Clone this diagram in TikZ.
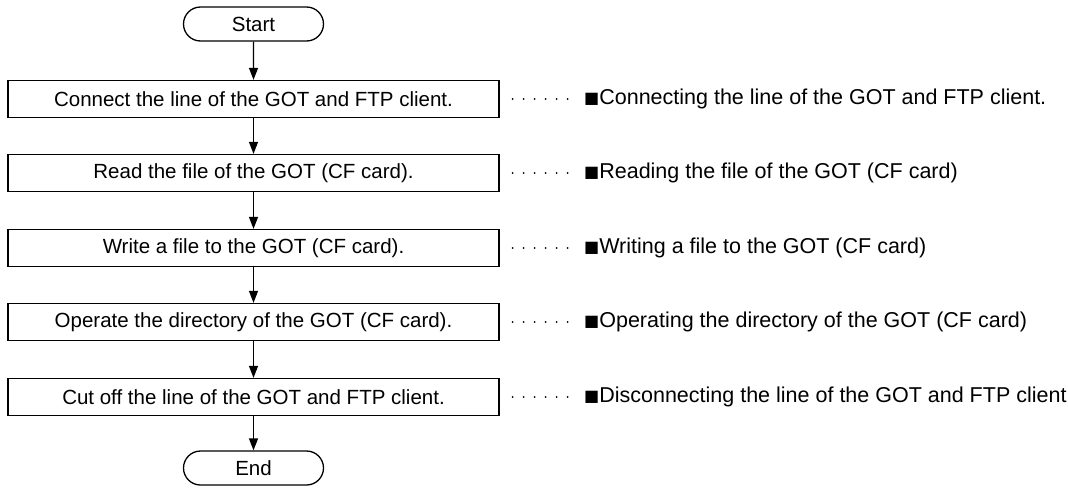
\documentclass[tikz,border=0pt]{standalone}
\usepackage{fontspec}
\setmainfont{Liberation Sans}
\newfontfamily\marksymbol{DejaVu Sans}
\newcommand{\blackmark}{\raisebox{1pt}{\marksymbol\fontsize{16}{20}\selectfont ■}}
\usetikzlibrary{shapes.misc,arrows.meta}

\begin{document}
\begin{tikzpicture}[x=1pt,y=-1pt,
  every node/.style={font=\fontsize{20.5}{24}\selectfont},
  term/.style={draw,rounded rectangle,minimum width=140pt,minimum height=34pt,inner sep=0pt,line width=1.3pt},
  stepbox/.style={draw,minimum width=491pt,minimum height=37pt,inner sep=0pt,line width=1.3pt},
  note/.style={anchor=west,inner sep=0pt,font=\fontsize{21.5}{25}\selectfont},
  flow/.style={-{Triangle[length=12pt,width=9pt]},line width=1.3pt},
  leader/.style={line width=2pt,line cap=round,dash pattern=on 0pt off 11pt}]
\useasboundingbox (0,0) rectangle (1068,488);
\node[term] (start) at (253.5,24) {Start};
\node[stepbox] (s1) at (253.5,99) {Connect the line of the GOT and FTP client.};
\node[stepbox] (s2) at (253.5,173) {Read the file of the GOT (CF card).};
\node[stepbox] (s3) at (253.5,248) {Write a file to the GOT (CF card).};
\node[stepbox] (s4) at (253.5,322) {Operate the directory of the GOT (CF card).};
\node[stepbox] (s5) at (253.5,397) {Cut off the line of the GOT and FTP client.};
\node[term] (end) at (253.5,468) {End};
\draw[flow] (start) -- (s1);
\draw[flow] (s1) -- (s2);
\draw[flow] (s2) -- (s3);
\draw[flow] (s3) -- (s4);
\draw[flow] (s4) -- (s5);
\draw[flow] (s5) -- (end);
% notes on the right
\node[note] (n1) at (584,99) {\blackmark Connecting the line of the GOT and FTP client.};
\node[note] (n2) at (584,173) {\blackmark Reading the file of the GOT (CF card)};
\node[note] (n3) at (584,248) {\blackmark Writing a file to the GOT (CF card)};
\node[note] (n4) at (584,322) {\blackmark Operating the directory of the GOT (CF card)};
\node[note] (n5) at (584,397) {\blackmark Disconnecting the line of the GOT and FTP client};
\draw[leader] ([xshift=13pt]s1.east) -- ([xshift=-15pt]n1.west);
\draw[leader] ([xshift=13pt]s2.east) -- ([xshift=-15pt]n2.west);
\draw[leader] ([xshift=13pt]s3.east) -- ([xshift=-15pt]n3.west);
\draw[leader] ([xshift=13pt]s4.east) -- ([xshift=-15pt]n4.west);
\draw[leader] ([xshift=13pt]s5.east) -- ([xshift=-15pt]n5.west);
\end{tikzpicture}
\end{document}
